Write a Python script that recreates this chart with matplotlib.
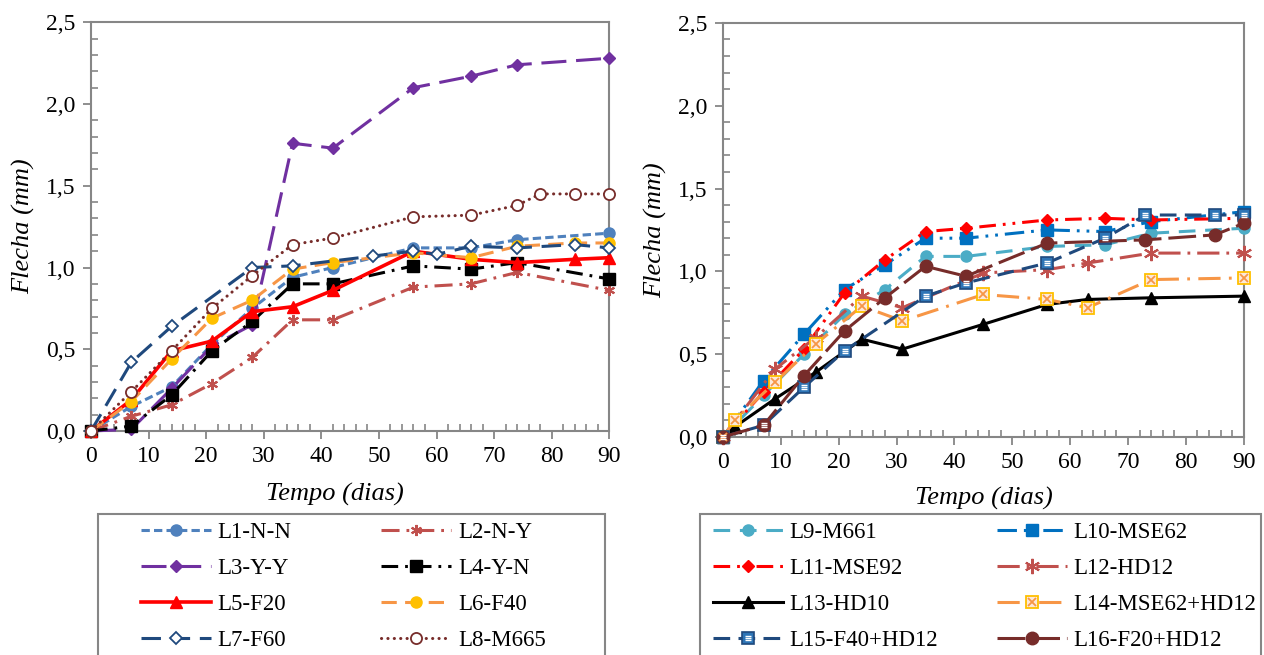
import matplotlib
matplotlib.use("Agg")
import matplotlib.pyplot as plt
from matplotlib.patches import Rectangle
from matplotlib.ticker import MultipleLocator, FuncFormatter
from matplotlib.legend_handler import HandlerTuple

plt.rcParams['font.family'] = ['Liberation Serif', 'DejaVu Serif']
plt.rcParams['lines.scale_dashes'] = False

# ---- left chart data (days, deflection in mm) ----
d_L1 = [0, 7, 14, 21, 28, 35, 42, 56, 66, 74, 90]
v_L1 = [0, 0.15, 0.27, 0.53, 0.75, 0.94, 1.00, 1.12, 1.12, 1.17, 1.21]
d_L2 = [0, 7, 14, 21, 28, 35, 42, 56, 66, 74, 90]
v_L2 = [0, 0.09, 0.16, 0.29, 0.45, 0.68, 0.68, 0.88, 0.90, 0.97, 0.86]
d_L3 = [0, 7, 14, 21, 28, 35, 42, 56, 66, 74, 90]
v_L3 = [0, 0.01, 0.26, 0.52, 0.65, 1.76, 1.73, 2.10, 2.17, 2.24, 2.28]
d_L4 = [0, 7, 14, 21, 28, 35, 42, 56, 66, 74, 90]
v_L4 = [0, 0.03, 0.22, 0.49, 0.67, 0.90, 0.90, 1.01, 0.99, 1.03, 0.93]
d_L5 = [0, 7, 14, 21, 28, 35, 42, 56, 66, 74, 84, 90]
v_L5 = [0, 0.19, 0.49, 0.55, 0.73, 0.76, 0.86, 1.10, 1.05, 1.03, 1.05, 1.06]
d_L6 = [0, 7, 14, 21, 28, 35, 42, 56, 66, 74, 84, 90]
v_L6 = [0, 0.18, 0.44, 0.69, 0.80, 0.99, 1.03, 1.09, 1.06, 1.13, 1.15, 1.15]
d_L7 = [0, 7, 14, 28, 35, 49, 56, 60, 66, 74, 84, 90]
v_L7 = [0, 0.42, 0.64, 1.00, 1.01, 1.07, 1.10, 1.08, 1.13, 1.12, 1.14, 1.12]
d_L8 = [0, 7, 14, 21, 28, 35, 42, 56, 66, 74, 78, 84, 90]
v_L8 = [0, 0.24, 0.49, 0.75, 0.95, 1.14, 1.18, 1.31, 1.32, 1.38, 1.45, 1.45, 1.45]

# ---- right chart data ----
d_L9 = [0, 7, 14, 21, 28, 35, 42, 56, 66, 74, 90]
v_L9 = [0, 0.25, 0.50, 0.74, 0.89, 1.09, 1.09, 1.15, 1.16, 1.23, 1.26]
d_L10 = [0, 7, 14, 21, 28, 35, 42, 56, 66, 74, 90]
v_L10 = [0, 0.34, 0.62, 0.89, 1.04, 1.20, 1.20, 1.25, 1.24, 1.30, 1.36]
d_L11 = [0, 7, 14, 21, 28, 35, 42, 56, 66, 74, 90]
v_L11 = [0, 0.27, 0.53, 0.87, 1.07, 1.24, 1.26, 1.31, 1.32, 1.31, 1.32]
d_L12 = [0, 9, 16, 24, 31, 45, 56, 63, 74, 90]
v_L12 = [0, 0.41, 0.60, 0.85, 0.78, 0.99, 1.01, 1.05, 1.11, 1.11]
d_L13 = [0, 2, 9, 16, 24, 31, 45, 56, 63, 74, 90]
v_L13 = [0, 0.06, 0.23, 0.39, 0.59, 0.53, 0.68, 0.80, 0.83, 0.84, 0.85]
d_L14 = [0, 2, 9, 16, 24, 31, 45, 56, 63, 74, 90]
v_L14 = [0, 0.10, 0.33, 0.56, 0.79, 0.70, 0.86, 0.83, 0.78, 0.95, 0.96]
d_L15 = [0, 7, 14, 21, 35, 42, 56, 66, 73, 85, 90]
v_L15 = [0, 0.07, 0.30, 0.52, 0.85, 0.93, 1.05, 1.20, 1.34, 1.34, 1.34]
d_L16 = [0, 7, 14, 21, 28, 35, 42, 56, 73, 85, 90]
v_L16 = [0, 0.07, 0.37, 0.64, 0.84, 1.03, 0.97, 1.17, 1.19, 1.22, 1.29]

labels_left = ["L1-N-N", "L2-N-Y", "L3-Y-Y", "L4-Y-N",
               "L5-F20", "L6-F40", "L7-F60", "L8-M665"]
labels_right = ["L9-M661", "L10-MSE62", "L11-MSE92", "L12-HD12",
                "L13-HD10", "L14-MSE62+HD12", "L15-F40+HD12", "L16-F20+HD12"]

GRAY = "#868686"
ast6 = (6, 2, 0)  # six-armed asterisk

styles_left = [
    dict(color="#4F81BD", ls=(0, (6, 3)), marker="o", ms=8, mfc="#4F81BD", mec="#4F81BD"),
    dict(color="#C0504D", ls=(0, (13, 5, 2, 5)), marker=ast6, ms=8, mec="#C0504D", mew=1.5),
    dict(color="#7030A0", ls=(0, (18, 7)), marker="D", ms=6, mfc="#7030A0", mec="#7030A0"),
    dict(color="black", ls=(0, (12, 5, 2, 5)), marker="s", ms=8, mfc="black", mec="black"),
    dict(color="#FF0000", ls="-", lw=2.6, marker="^", ms=8, mfc="#FF0000", mec="#FF0000"),
    dict(color="#F79646", ls=(0, (11, 6)), marker="o", ms=8, mfc="#FFC000", mec="#FFC000"),
    dict(color="#1F497D", ls=(0, (14, 7)), marker="D", ms=6, mfc="white", mec="#1F497D", mew=1.3),
    dict(color="#772C2A", ls=(0, (0.1, 4.5)), marker="o", ms=8, mfc="white", mec="#772C2A", mew=1.3,
         dash_capstyle="round"),
]
styles_right = [
    dict(color="#4BACC6", ls=(0, (12, 7)), marker="o", ms=8, mfc="#4BACC6", mec="#4BACC6"),
    dict(color="#0070C0", ls=(0, (14, 5, 2, 5, 2, 5)), marker="s", ms=8, mfc="#0070C0", mec="#0070C0"),
    dict(color="#FF0000", ls=(0, (12, 5, 2, 5, 2, 5)), marker="D", ms=6, mfc="#FF0000", mec="#FF0000"),
    dict(color="#C0504D", ls=(0, (16, 5, 2, 5)), marker=ast6, ms=11, mec="#C0504D", mew=1.5),
    dict(color="black", ls="-", marker="^", ms=8, mfc="black", mec="black"),
    dict(color="#F79646", ls=(0, (16, 6, 2, 6)), marker="s", ms=9, mfc="#FDE9D9", mec="#FFC000", mew=1.3),
    dict(color="#1F497D", ls=(0, (12, 6)), marker="s", ms=9, mfc="#2E75B6", mec="#1F497D", mew=1.2),
    dict(color="#772C2A", ls=(0, (20, 5)), marker="o", ms=9, mfc="#772C2A", mec="#772C2A"),
]


def comma(v, pos):
    return f"{v:.1f}".replace(".", ",")


def setup(ax, xlab_x, xlab_y):
    ax.set_xlim(0, 90)
    ax.set_ylim(0, 2.5)
    ax.xaxis.set_major_locator(MultipleLocator(10))
    ax.xaxis.set_minor_locator(MultipleLocator(2))
    ax.yaxis.set_major_locator(MultipleLocator(0.5))
    ax.yaxis.set_minor_locator(MultipleLocator(0.1))
    ax.yaxis.set_major_formatter(FuncFormatter(comma))
    ax.tick_params(which="major", direction="out", length=6, width=1.3, color=GRAY,
                   labelsize=17, pad=5)
    ax.tick_params(which="minor", direction="in", length=5, width=1.2, color=GRAY)
    for s in ax.spines.values():
        s.set_color(GRAY)
        s.set_linewidth(1.5)
    ax.set_xlabel("Tempo (dias)", style="italic", fontsize=19)
    ax.set_ylabel("Flecha (mm)", style="italic", fontsize=19, labelpad=8)
    ax.xaxis.set_label_coords(xlab_x, xlab_y)


def draw(ax, days, vals, st, label):
    st = dict(st)
    lw = st.pop("lw", 2.2)
    line, = ax.plot(days, vals, lw=lw, label=label, clip_on=False, zorder=3, **st)
    return line


fig = plt.figure(figsize=(12.64, 6.55), dpi=100)
axL = fig.add_axes([0.072, 0.342, 0.410, 0.624])
axR = fig.add_axes([0.572, 0.333, 0.412, 0.632])
setup(axL, 0.47, -0.128)
setup(axR, 0.5, -0.122)

left_data = [(d_L1, v_L1), (d_L2, v_L2), (d_L3, v_L3), (d_L4, v_L4),
             (d_L5, v_L5), (d_L6, v_L6), (d_L7, v_L7), (d_L8, v_L8)]
right_data = [(d_L9, v_L9), (d_L10, v_L10), (d_L11, v_L11), (d_L12, v_L12),
              (d_L13, v_L13), (d_L14, v_L14), (d_L15, v_L15), (d_L16, v_L16)]

hL = [draw(axL, d, v, st, lab) for (d, v), st, lab in zip(left_data, styles_left, labels_left)]
hR = [draw(axR, d, v, st, lab) for (d, v), st, lab in zip(right_data, styles_right, labels_right)]

# extra marker details (cross inside L14 box, stripes inside L15 box)
ov14, = axR.plot(d_L14, v_L14, ls="none", marker="x", ms=6, mec="#F79646", mew=1.3,
                 clip_on=False, zorder=4)
ov15, = axR.plot(d_L15, v_L15, ls="none", marker="$\\equiv$", ms=5, mfc="white", mec="white",
                 clip_on=False, zorder=4)
hR[5] = (hR[5], ov14)
hR[6] = (hR[6], ov15)


def add_legend(handles, labels, anchor, colsp, frame):
    order = [0, 2, 4, 6, 1, 3, 5, 7]
    leg = fig.legend([handles[i] for i in order], [labels[i] for i in order],
                     loc="upper left", bbox_to_anchor=anchor, ncol=2,
                     fontsize=16.5, frameon=False,
                     handlelength=3.05, handletextpad=0.3, labelspacing=0.65,
                     borderaxespad=0, borderpad=0, columnspacing=colsp,
                     handler_map={tuple: HandlerTuple(ndivide=1)})
    fig.add_artist(Rectangle((frame[0], -0.02), frame[1], 0.235, transform=fig.transFigure,
                             fill=False, edgecolor=GRAY, lw=1.5))
    return leg


add_legend(hL, labels_left, (141 / 1264, 0.203), 3.9, (0.0775, 0.401))
add_legend(hR, labels_right, (713 / 1264, 0.203), 2.55, (0.554, 0.444))

fig.savefig("out.png", dpi=100)
